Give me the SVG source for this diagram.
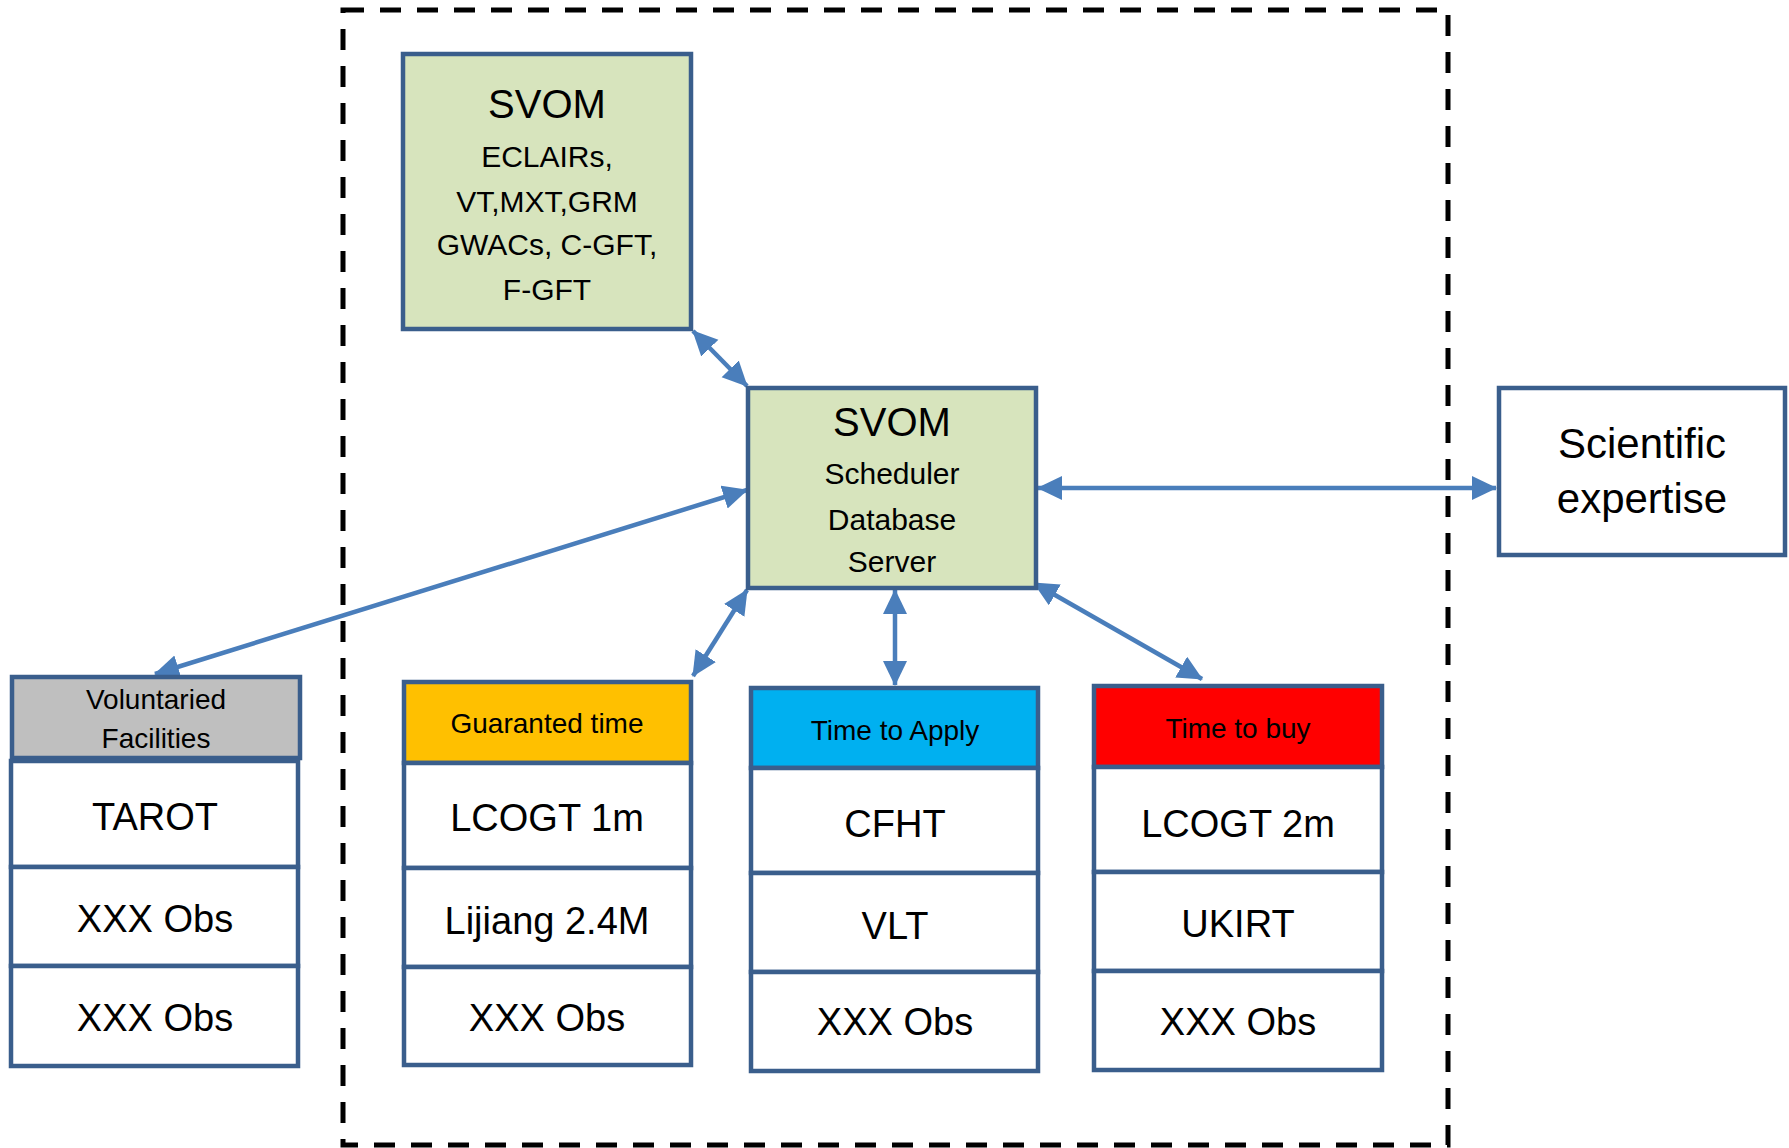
<svg xmlns="http://www.w3.org/2000/svg" width="1789" height="1148" viewBox="0 0 1789 1148">
<defs>
<style>
.box{stroke:#3A5E8C;stroke-width:4.5;}
.g{fill:#D7E4BD;}
.w{fill:#FFFFFF;}
.t{font-family:"Liberation Sans",Arial,sans-serif;fill:#000;text-anchor:middle;}
.big{font-size:40px;}
.mid{font-size:30px;}
.hd{font-size:28px;}
.row{font-size:38px;}
.conn{stroke:#4A7EBB;stroke-width:4.5;fill:none;marker-start:url(#ah);marker-end:url(#ah);}
</style>
<marker id="ah" markerUnits="userSpaceOnUse" markerWidth="26" markerHeight="26" viewBox="0 0 26 26" refX="24" refY="12" orient="auto-start-reverse">
<path d="M0,0 L25,12 L0,24 z" fill="#4A7EBB"/>
</marker>
</defs>
<rect width="1789" height="1148" fill="#FFFFFF"/>
<rect x="343" y="10" width="1105" height="1135" fill="none" stroke="#000" stroke-width="5" stroke-dasharray="21 16"/>

<g id="connectors">
<line class="conn" x1="693" y1="331" x2="747" y2="386"/>
<line class="conn" x1="1038" y1="488" x2="1496" y2="488"/>
<line class="conn" x1="747" y1="490" x2="155" y2="674"/>
<line class="conn" x1="747" y1="590" x2="693" y2="676"/>
<line class="conn" x1="895" y1="590" x2="895" y2="685"/>
<line class="conn" x1="1034" y1="583" x2="1202" y2="679"/>
</g>

<g id="svom-instruments">
<rect class="box g" x="403" y="54" width="288" height="275"/>
<text class="t big" x="547" y="118">SVOM</text>
<text class="t mid" x="547" y="167">ECLAIRs,</text>
<text class="t mid" x="547" y="212">VT,MXT,GRM</text>
<text class="t mid" x="547" y="255">GWACs, C-GFT,</text>
<text class="t mid" x="547" y="300">F-GFT</text>
</g>

<g id="svom-scheduler">
<rect class="box g" x="748" y="388" width="288" height="200"/>
<text class="t big" x="892" y="436">SVOM</text>
<text class="t mid" x="892" y="484">Scheduler</text>
<text class="t mid" x="892" y="530">Database</text>
<text class="t mid" x="892" y="572">Server</text>
</g>

<g id="scientific-expertise">
<rect class="box w" x="1499" y="388" width="286" height="167"/>
<text class="t" style="font-size:42px" x="1642" y="458">Scientific</text>
<text class="t" style="font-size:42px" x="1642" y="513">expertise</text>
</g>

<g id="voluntaried">
<rect class="box" fill="#BFBFBF" x="12" y="677" width="288" height="81"/>
<text class="t hd" x="156" y="709">Voluntaried</text>
<text class="t hd" x="156" y="748">Facilities</text>
<rect class="box w" x="11" y="761" width="287" height="106"/>
<text class="t row" x="155" y="830">TAROT</text>
<rect class="box w" x="11" y="867" width="287" height="99"/>
<text class="t row" x="155" y="932">XXX Obs</text>
<rect class="box w" x="11" y="966" width="287" height="100"/>
<text class="t row" x="155" y="1031">XXX Obs</text>
</g>

<g id="guaranted">
<rect class="box" fill="#FFC000" x="404" y="682" width="287" height="81"/>
<text class="t hd" x="547" y="733">Guaranted time</text>
<rect class="box w" x="404" y="763" width="287" height="105"/>
<text class="t row" x="547" y="831">LCOGT 1m</text>
<rect class="box w" x="404" y="868" width="287" height="99"/>
<text class="t row" x="547" y="934">Lijiang 2.4M</text>
<rect class="box w" x="404" y="967" width="287" height="98"/>
<text class="t row" x="547" y="1031">XXX Obs</text>
</g>

<g id="time-to-apply">
<rect class="box" fill="#00B0F0" x="751" y="688" width="287" height="80"/>
<text class="t hd" x="895" y="740">Time to Apply</text>
<rect class="box w" x="751" y="768" width="287" height="105"/>
<text class="t row" x="895" y="837">CFHT</text>
<rect class="box w" x="751" y="873" width="287" height="99"/>
<text class="t row" x="895" y="939">VLT</text>
<rect class="box w" x="751" y="972" width="287" height="99"/>
<text class="t row" x="895" y="1035">XXX Obs</text>
</g>

<g id="time-to-buy">
<rect class="box" fill="#FF0000" x="1094" y="686" width="288" height="81"/>
<text class="t hd" x="1238" y="738">Time to buy</text>
<rect class="box w" x="1094" y="767" width="288" height="105"/>
<text class="t row" x="1238" y="837">LCOGT 2m</text>
<rect class="box w" x="1094" y="872" width="288" height="99"/>
<text class="t row" x="1238" y="937">UKIRT</text>
<rect class="box w" x="1094" y="971" width="288" height="99"/>
<text class="t row" x="1238" y="1035">XXX Obs</text>
</g>
</svg>
